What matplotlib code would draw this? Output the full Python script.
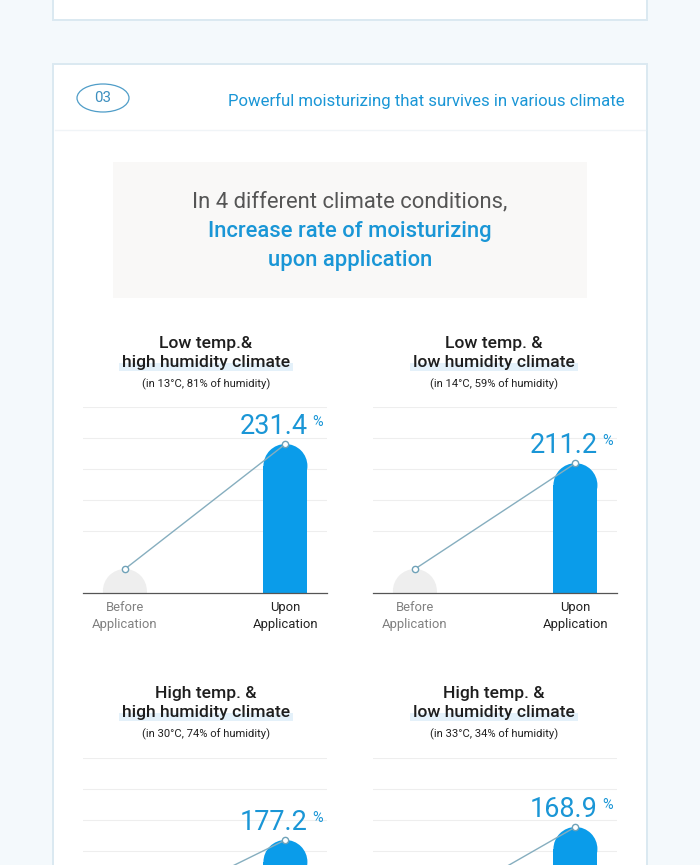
import matplotlib
matplotlib.use('Agg')
import matplotlib.pyplot as plt
from matplotlib.patches import Rectangle, Ellipse
import numpy as np

plt.rcParams['font.family'] = ['Roboto', 'DejaVu Sans']

# 数据
climate_line1 = ['Low temp.&', 'Low temp. &', 'High temp. &', 'High temp. &']
climate_line2 = ['high humidity climate', 'low humidity climate',
                 'high humidity climate', 'low humidity climate']
conditions = ['(in 13°C, 81% of humidity)', '(in 14°C, 59% of humidity)',
              '(in 30°C, 74% of humidity)', '(in 33°C, 34% of humidity)']
stages = ['Before\nApplication', 'Upon\nApplication']
before_values = [100, 100, 100, 100]
upon_values = [231.4, 211.2, 177.2, 168.9]
# 每个小图的y轴范围 (原图并不是同一比例)
y_ranges = [(74.8, 270.3), (74.8, 270.3), (76.5, 257.3), (82.0, 220.6)]

header_no = '03'
header_title = 'Powerful moisturizing that survives in various climate'
intro_lines = ['In 4 different climate conditions,',
               'Increase rate of moisturizing',
               'upon application']

BLUE = '#1a96d6'
BAR_BLUE = '#0a9cea'
GRAY_DOME = '#eeeeee'

def px(v):
    # 像素 -> 磅
    return v * 0.72

W, H = 700, 865
fig = plt.figure(figsize=(7, 8.65), dpi=100)
fig.patch.set_facecolor('#f4f9fc')

bg = fig.add_axes([0, 0, 1, 1])
bg.set_xlim(0, W)
bg.set_ylim(H, 0)
bg.axis('off')
bg.set_zorder(0)

# 卡片
bg.add_patch(Rectangle((53, -20), 594, 40, fc='white', ec='#dbe9f1', lw=1.4))
bg.add_patch(Rectangle((53, 64), 594, 900, fc='white', ec='#dbe9f1', lw=1.4))
bg.plot([55, 645], [130, 130], color='#f0f4f7', lw=1)

# 标题栏
bg.add_patch(Ellipse((103, 98), 52, 28, fc='none', ec='#4f9dc8', lw=0.9))
bg.text(103, 98, header_no, ha='center', va='center', fontsize=px(15), color='#3d8fbf')
bg.text(625, 106, header_title, ha='right', va='baseline', fontsize=px(16.7), color=BLUE)

# 灰色说明框
bg.add_patch(Rectangle((113, 162), 474, 136, fc='#f9f8f7', ec='none'))
bg.text(350, 207, intro_lines[0], ha='center', va='baseline', fontsize=px(22), color='#555555')
bg.text(350, 237, intro_lines[1], ha='center', va='baseline', fontsize=px(22),
        color=BLUE, fontweight='medium')
bg.text(350, 266, intro_lines[2], ha='center', va='baseline', fontsize=px(22),
        color=BLUE, fontweight='medium')

renderer = fig.canvas.get_renderer()

for i in range(4):
    row, col = i // 2, i % 2
    cx = 206 + 288 * col
    dy = 350 * row

    # 小标题
    bg.text(cx, 348 + dy, climate_line1[i], ha='center', va='baseline',
            fontsize=px(17.5), color='#1e1e1e', fontweight='medium', zorder=3)
    t2 = bg.text(cx, 367 + dy, climate_line2[i], ha='center', va='baseline',
                 fontsize=px(17.5), color='#1e1e1e', fontweight='medium', zorder=3)
    bb = t2.get_window_extent(renderer)
    x0 = bg.transData.inverted().transform((bb.x0, 0))[0]
    x1 = bg.transData.inverted().transform((bb.x1, 0))[0]
    bg.add_patch(Rectangle((x0 - 3, 363 + dy), x1 - x0 + 6, 8, fc='#e4f1fa', ec='none', zorder=2))
    bg.text(cx, 387 + dy, conditions[i], ha='center', va='baseline',
            fontsize=px(11.2), color='#222222', zorder=3)

    # 图表区域
    left = 83 + 290 * col
    top = 407 + 351 * row
    base = 593 + 350 * row
    ax = fig.add_axes([left / W, 1 - base / H, 244 / W, (base - top) / H])
    ax.set_facecolor('none')
    ax.set_zorder(2)
    ymin, ymax = y_ranges[i]
    ax.set_ylim(ymin, ymax)
    ax.set_xlim(-0.261, 1.259)
    ax.set_yticks(np.linspace(ymin, ymax, 7)[2:])
    ax.yaxis.grid(True, color='#eeeeee', lw=0.8)
    ax.set_axisbelow(True)
    ax.tick_params(axis='y', length=0, labelleft=False)
    for s in ['top', 'left', 'right']:
        ax.spines[s].set_visible(False)
    ax.spines['bottom'].set_color('#555555')
    ax.spines['bottom'].set_linewidth(0.9)

    ax.set_xticks([0, 1])
    ax.set_xticklabels(stages, fontsize=px(13))
    ax.tick_params(axis='x', length=0, pad=6)
    lbls = ax.get_xticklabels()
    lbls[0].set_color('#808080')
    lbls[1].set_color('#222222')
    for lb in lbls:
        lb.set_linespacing(1.35)
    if row == 1:
        # 下排的横轴标签在画面之外
        ax.tick_params(axis='x', labelbottom=False)

    # 圆头柱子
    bar_w = 0.274
    p0 = ax.transData.transform((0, ymin))
    p1 = ax.transData.transform((bar_w, ymin + 1))
    r_px = (p1[0] - p0[0]) / 2
    r_y = r_px / (p1[1] - p0[1])
    vals = [before_values[i], upon_values[i]]
    colors = [GRAY_DOME, BAR_BLUE]
    for x, v, c in zip([0, 1], vals, colors):
        cy = v - r_y
        h = max(0, cy - ymin)
        ax.bar(x, h, bottom=ymin, width=bar_w, color=c, zorder=2)
        ax.add_patch(Ellipse((x, cy), bar_w, 2 * r_y, fc=c, ec='none', zorder=2))

    ax.plot([0, 1], vals, color='#86aebf', lw=1, marker='o', ms=4.5,
            mfc='white', mec='#6fa2b8', mew=1, zorder=4)

    ax.annotate(f'{upon_values[i]}', xy=(1, upon_values[i]), xytext=(22.5, 10),
                textcoords='offset pixels', ha='right', va='baseline',
                fontsize=px(27), color=BLUE, annotation_clip=False)
    ax.annotate('%', xy=(1, upon_values[i]), xytext=(27, 18),
                textcoords='offset pixels', ha='left', va='baseline',
                fontsize=px(14.5), color=BLUE, annotation_clip=False)

fig.savefig('out.png', dpi=100, facecolor=fig.get_facecolor())
